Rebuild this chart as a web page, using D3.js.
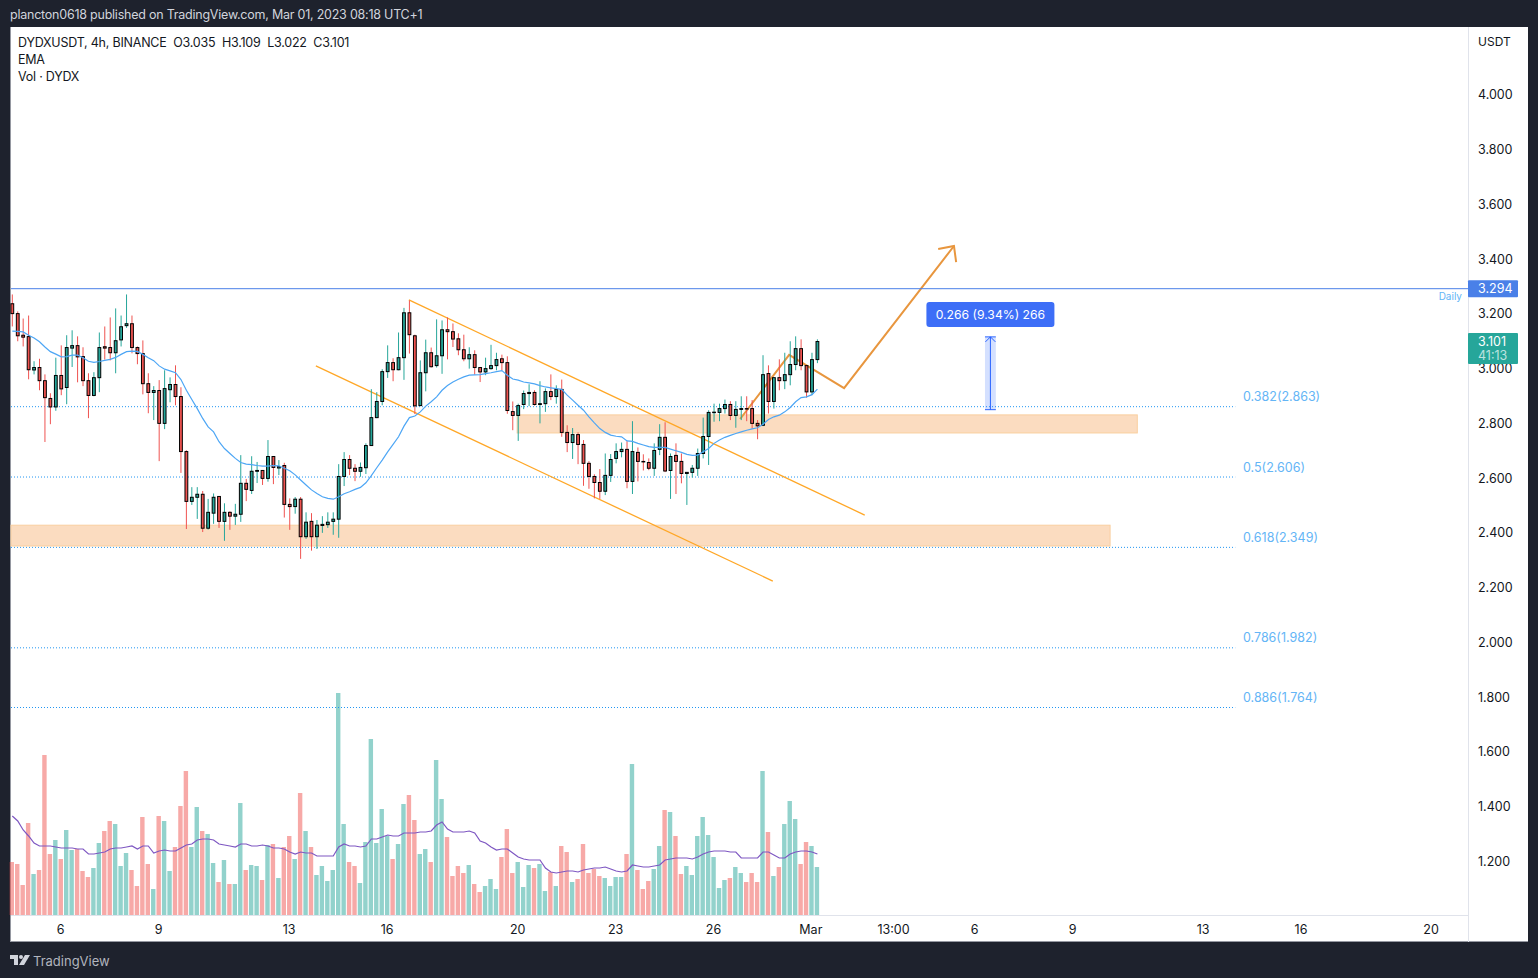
<!DOCTYPE html>
<html>
<head>
<meta charset="utf-8">
<title>DYDXUSDT</title>
<script src="https://cdnjs.cloudflare.com/ajax/libs/d3/7.8.5/d3.min.js"></script>
<style>
body { margin: 0; background: #1e222d; }
svg { display: block; }
text { font-family: Inter, "Noto Sans", sans-serif; }
</style>
</head>
<body>
<svg id="chart" width="1538" height="978"></svg>
<script>
var WIDTH = 1538, HEIGHT = 978;
var CHART_LEFT = 10, CHART_RIGHT = 1528, CHART_TOP = 27, CHART_BOTTOM = 942;
var AXIS_X = 1468, VOL_BASE = 915;
var TEAL = "#26a69a", RED = "#ef5350", FIB_BLUE = "#2196f3";

// 4h candles, one entry per bar
var opens = [
3.239,3.203,3.124,3.119,2.997,3.006,2.958,2.893,2.862,2.977,
2.933,3.077,3.086,3.046,2.958,2.904,2.969,3.082,3.079,3.060,
3.107,3.159,3.166,3.079,3.057,2.947,2.915,2.922,2.802,2.925,
2.944,2.900,2.699,2.517,2.532,2.543,2.419,2.474,2.535,2.444,
2.477,2.463,2.470,2.583,2.557,2.627,2.630,2.601,2.681,2.639,
2.648,2.506,2.498,2.525,2.388,2.444,2.388,2.429,2.432,2.444,
2.452,2.608,2.670,2.638,2.627,2.640,2.721,2.823,2.882,2.991,
3.024,2.998,3.042,3.206,3.122,2.867,2.987,3.060,3.013,3.049,
3.144,3.137,3.111,3.071,3.038,3.053,3.006,2.990,3.002,3.013,
3.038,3.024,2.845,2.831,2.871,2.911,2.915,2.871,2.874,2.918,
2.900,2.926,2.769,2.732,2.761,2.725,2.656,2.608,2.586,2.554,
2.612,2.674,2.699,2.707,2.590,2.696,2.663,2.659,2.638,2.707,
2.751,2.630,2.685,2.663,2.619,2.623,2.638,2.692,2.754,2.842,
2.842,2.856,2.871,2.831,2.853,2.856,2.856,2.802,2.795,2.984,
2.882,2.969,2.958,2.980,3.017,3.075,3.013,2.917,3.035];
var highs = [
3.273,3.211,3.185,3.196,3.029,3.038,2.981,2.912,3.042,3.087,
3.124,3.142,3.120,3.080,2.985,2.989,3.134,3.156,3.189,3.222,
3.196,3.273,3.196,3.083,3.105,2.985,2.938,2.960,2.996,2.970,
3.014,2.934,2.704,2.569,2.569,2.555,2.526,2.546,2.535,2.510,
2.481,2.508,2.686,2.599,2.682,2.661,2.631,2.741,2.681,2.668,
2.658,2.528,2.533,2.533,2.477,2.474,2.449,2.463,2.477,2.477,
2.653,2.697,2.686,2.653,2.659,2.729,2.927,2.916,3.000,3.087,
3.040,3.134,3.224,3.251,3.126,3.032,3.108,3.079,3.182,3.178,
3.189,3.167,3.131,3.126,3.080,3.069,3.006,3.042,3.089,3.060,
3.053,3.047,2.882,2.874,2.922,2.945,2.923,2.956,2.930,2.981,
2.941,2.962,2.795,2.785,2.769,2.741,2.664,2.616,2.635,2.692,
2.690,2.729,2.732,2.737,2.810,2.714,2.689,2.674,2.729,2.799,
2.806,2.692,2.729,2.692,2.623,2.650,2.710,2.823,2.850,2.874,
2.874,2.889,2.883,2.883,2.901,2.901,2.887,2.814,3.051,3.014,
2.969,3.036,3.060,3.102,3.120,3.109,3.014,3.060,3.109];
var lows = [
3.156,3.102,3.083,2.963,2.981,2.923,2.734,2.799,2.848,2.905,
2.872,3.008,2.952,2.938,2.821,2.901,2.916,3.035,3.032,2.985,
3.083,3.151,3.058,3.018,2.908,2.839,2.814,2.664,2.781,2.879,
2.868,2.621,2.416,2.504,2.453,2.405,2.414,2.435,2.420,2.373,
2.413,2.431,2.442,2.518,2.544,2.584,2.577,2.589,2.580,2.613,
2.458,2.413,2.472,2.307,2.380,2.337,2.343,2.402,2.420,2.395,
2.384,2.573,2.613,2.591,2.607,2.617,2.720,2.821,2.868,2.968,
2.956,2.996,2.961,3.057,2.836,2.865,2.919,3.006,3.006,2.983,
3.036,3.081,3.051,3.029,3.002,2.980,2.953,2.978,2.998,2.996,
2.996,2.837,2.777,2.738,2.854,2.865,2.867,2.802,2.844,2.887,
2.874,2.753,2.697,2.672,2.653,2.574,2.563,2.528,2.526,2.540,
2.588,2.656,2.678,2.565,2.544,2.590,2.630,2.631,2.610,2.686,
2.624,2.526,2.544,2.583,2.504,2.604,2.610,2.674,2.650,2.808,
2.810,2.838,2.814,2.786,2.814,2.810,2.783,2.744,2.792,2.838,
2.856,2.923,2.927,2.941,2.996,2.996,2.896,2.905,3.022];
var closes = [
3.203,3.122,3.117,2.998,3.006,2.958,2.896,2.862,2.977,2.928,
3.079,3.086,3.045,2.958,2.904,2.969,3.079,3.077,3.060,3.104,
3.155,3.166,3.079,3.057,2.947,2.915,2.922,2.802,2.929,2.944,
2.900,2.699,2.517,2.532,2.543,2.419,2.477,2.532,2.444,2.477,
2.463,2.470,2.583,2.561,2.627,2.630,2.601,2.681,2.641,2.644,
2.506,2.498,2.525,2.388,2.441,2.388,2.430,2.433,2.441,2.452,
2.608,2.670,2.638,2.627,2.641,2.721,2.823,2.882,2.991,3.024,
2.998,3.042,3.206,3.126,2.866,2.987,3.060,3.009,3.049,3.144,
3.137,3.110,3.071,3.038,3.053,3.006,2.990,3.002,3.013,3.035,
3.024,2.849,2.831,2.867,2.911,2.915,2.871,2.874,2.918,2.900,
2.926,2.769,2.732,2.761,2.725,2.656,2.608,2.586,2.554,2.612,
2.670,2.699,2.707,2.590,2.699,2.663,2.662,2.638,2.703,2.751,
2.628,2.681,2.663,2.619,2.623,2.638,2.692,2.754,2.842,2.843,
2.856,2.871,2.831,2.853,2.856,2.855,2.802,2.793,2.980,2.882,
2.969,2.958,2.980,3.017,3.075,3.013,2.917,3.035,3.101];
var ema = [
3.139,3.138,3.136,3.124,3.114,3.100,3.081,3.064,3.055,3.045,
3.046,3.051,3.051,3.042,3.029,3.025,3.028,3.032,3.036,3.043,
3.054,3.064,3.066,3.065,3.054,3.042,3.031,3.012,3.000,2.994,
2.987,2.962,2.923,2.889,2.856,2.820,2.789,2.771,2.735,2.710,
2.692,2.674,2.659,2.653,2.651,2.648,2.646,2.646,2.648,2.647,
2.638,2.629,2.614,2.595,2.577,2.559,2.546,2.534,2.528,2.525,
2.534,2.545,2.552,2.561,2.568,2.585,2.611,2.640,2.668,2.698,
2.725,2.753,2.792,2.823,2.829,2.844,2.865,2.881,2.899,2.923,
2.940,2.953,2.963,2.972,2.978,2.979,2.980,2.984,2.987,2.991,
2.995,2.978,2.964,2.960,2.953,2.950,2.946,2.940,2.935,2.932,
2.929,2.926,2.905,2.887,2.868,2.850,2.826,2.804,2.783,2.769,
2.759,2.755,2.753,2.738,2.736,2.729,2.723,2.717,2.714,2.714,
2.714,2.708,2.702,2.696,2.689,2.685,2.686,2.698,2.710,2.729,
2.741,2.751,2.758,2.765,2.771,2.777,2.782,2.786,2.799,2.816,
2.826,2.832,2.844,2.860,2.881,2.896,2.899,2.907,2.927];
// volume pane, unlabeled in the picture so the unit is arbitrary
var volumes = [
53,51,30,92,41,45,160,61,75,56,85,65,66,44,38,47,72,84,94,91,
49,62,45,29,98,51,26,99,94,44,68,109,144,68,108,84,81,52,33,55,
31,31,112,45,50,49,35,70,71,37,68,79,56,122,84,68,40,49,34,45,
222,91,53,49,32,73,176,72,106,79,56,71,111,120,95,61,66,53,155,116,
78,39,49,42,50,31,23,29,36,26,58,86,42,53,28,50,47,51,24,43,
29,69,63,33,36,71,42,46,39,37,29,38,38,61,151,45,26,34,46,69,
105,103,79,41,49,40,79,98,80,58,27,35,37,48,42,33,42,33,144,83,
39,48,91,114,96,51,73,69,48];
var volMa = [
99,94,85,79,72,69,69,69,68,67,67,67,66,66,61,61,62,63,66,67,
67,68,69,66,69,69,62,64,65,64,64,67,70,71,75,76,76,75,71,70,
69,68,71,71,69,69,70,69,67,67,66,63,61,63,62,62,59,59,59,59,
68,71,69,69,68,69,76,76,78,80,79,79,82,82,82,83,83,84,90,93,
86,83,83,83,84,82,74,72,68,65,66,66,62,58,56,55,55,55,47,43,
42,43,44,44,43,45,46,47,47,48,46,44,43,44,50,49,48,48,49,50,
55,56,57,57,57,56,58,61,63,64,64,64,63,63,57,57,57,57,63,63,
60,57,57,61,63,64,64,63,61];

var priceTicks = [4, 3.8, 3.6, 3.4, 3.2, 3, 2.8, 2.6, 2.4, 2.2, 2, 1.8, 1.6, 1.4, 1.2];
var timeTickBars = [8.8, 26.8, 50.8, 68.8, 92.8, 110.8, 128.8, 146.7, 161.9, 176.8, 194.8, 218.8, 236.8, 260.7];
var timeTickLabels = ["6", "9", "13", "16", "20", "23", "26", "Mar", "13:00", "6", "9", "13", "16", "20"];

var fibLevels = [2.863, 2.606, 2.349, 1.982, 1.764];
var fibLabels = ["0.382(2.863)", "0.5(2.606)", "0.618(2.349)", "0.786(1.982)", "0.886(1.764)"];
var dailyLevel = 3.294;
var lastClose = 3.101;

// drawings, as [bar index, price]
var zones = [
    {from: -0.4, to: 201.8, top: 2.430, bottom: 2.354},
    {from: 92.8, to: 206.8, top: 2.833, bottom: 2.767}
];
var channelUpper = [[72.9, 3.253], [156.7, 2.467]];
var channelLower = [[55.8, 3.012], [139.8, 2.226]];
var projection = [[133.8, 2.818], [142.8, 3.052], [152.9, 2.931], [173.1, 3.450]];
var projectionHead = [[170.2, 3.439], [173.1, 3.450], [173.5, 3.391]];
var measure = {from: 178.8, to: 180.8, low: 2.852, high: 3.118};

var x = d3.scaleLinear().domain([0, 1]).range([12.3, 17.74]);
var y = d3.scaleLinear().domain([dailyLevel, 1.764]).range([288.7, 707.5]);
var yVol = d3.scaleLinear().domain([0, 222]).range([VOL_BASE, 693]);

var svg = d3.select("#chart");
var bars = d3.range(opens.length);

function isUp(i) {
    return closes[i] >= opens[i];
}

function drawFrame() {
    svg.append("rect")
        .attr("width", WIDTH).attr("height", HEIGHT).attr("fill", "#1e222d");
    svg.append("rect")
        .attr("x", CHART_LEFT).attr("y", CHART_TOP)
        .attr("width", CHART_RIGHT - CHART_LEFT).attr("height", CHART_BOTTOM - CHART_TOP)
        .attr("fill", "#ffffff");
    svg.append("line")
        .attr("x1", CHART_LEFT + 0.5).attr("x2", CHART_LEFT + 0.5)
        .attr("y1", CHART_TOP).attr("y2", CHART_BOTTOM)
        .attr("stroke", "#9598a1");
    svg.append("line")
        .attr("x1", CHART_LEFT).attr("x2", CHART_RIGHT)
        .attr("y1", CHART_BOTTOM - 0.5).attr("y2", CHART_BOTTOM - 0.5)
        .attr("stroke", "#9598a1");
    svg.append("line")
        .attr("x1", AXIS_X + 0.5).attr("x2", AXIS_X + 0.5)
        .attr("y1", CHART_TOP).attr("y2", CHART_BOTTOM)
        .attr("stroke", "#e0e3eb");
    svg.append("line")
        .attr("x1", CHART_LEFT + 1).attr("x2", AXIS_X)
        .attr("y1", VOL_BASE + 0.5).attr("y2", VOL_BASE + 0.5)
        .attr("stroke", "#e0e3eb");
}

function drawHeader() {
    svg.append("text")
        .attr("x", 10).attr("y", 19)
        .attr("font-size", 12.5).attr("letter-spacing", -0.23).attr("fill", "#d1d4dc")
        .text("plancton0618 published on TradingView.com, Mar 01, 2023 08:18 UTC+1");
    var legend = svg.append("g").attr("font-size", 12.5).attr("letter-spacing", -0.22).attr("fill", "#131722");
    legend.append("text").attr("x", 18).attr("y", 47)
        .attr("xml:space", "preserve")
        .text("DYDXUSDT, 4h, BINANCE  O3.035  H3.109  L3.022  C3.101");
    legend.append("text").attr("x", 18).attr("y", 64).text("EMA");
    legend.append("text").attr("x", 18).attr("y", 81).text("Vol \u00b7 DYDX");
}

function drawFooter() {
    var logo = svg.append("g").attr("transform", "translate(10,955)").attr("fill", "#d1d4dc");
    logo.append("path").attr("d", "M0 0H8V10H4V4H0Z");
    logo.append("circle").attr("cx", 11).attr("cy", 2).attr("r", 2);
    logo.append("path").attr("d", "M15 0H20L14 10H9Z");
    svg.append("text")
        .attr("x", 33).attr("y", 966)
        .attr("font-size", 13).attr("fill", "#b2b5be")
        .text("TradingView");
}

function drawAxes() {
    var priceAxis = d3.axisRight(y)
        .tickValues(priceTicks)
        .tickFormat(d3.format(".3f"))
        .tickSize(0)
        .tickPadding(10);
    var gy = svg.append("g")
        .attr("transform", "translate(" + AXIS_X + ",-0.6)")
        .call(priceAxis);
    gy.select(".domain").remove();
    gy.selectAll("text").attr("font-size", 12.5).attr("fill", "#131722")
        .style("font-family", "Inter, sans-serif");

    svg.append("text")
        .attr("x", AXIS_X + 10).attr("y", 45.5)
        .attr("font-size", 12).attr("fill", "#131722")
        .text("USDT");

    var timeAxis = d3.axisBottom(x)
        .tickValues(timeTickBars)
        .tickFormat(function(d, i) { return timeTickLabels[i]; })
        .tickSize(0)
        .tickPadding(10);
    var gx = svg.append("g")
        .attr("transform", "translate(0," + VOL_BASE + ")")
        .call(timeAxis);
    gx.select(".domain").remove();
    gx.selectAll("text").attr("font-size", 12.5).attr("fill", "#131722")
        .style("font-family", "Inter, sans-serif");
}

function drawVolume() {
    svg.append("g").selectAll("rect")
        .data(bars)
        .join("rect")
        .attr("x", function(i) { return x(i) - 2.7; })
        .attr("width", 4.4)
        .attr("y", function(i) { return yVol(volumes[i]); })
        .attr("height", function(i) { return VOL_BASE - yVol(volumes[i]); })
        .attr("fill", function(i) { return isUp(i) ? TEAL : RED; })
        .attr("fill-opacity", 0.5);

    var line = d3.line()
        .x(function(i) { return x(i); })
        .y(function(i) { return yVol(volMa[i]); });
    svg.append("path")
        .attr("d", line(bars))
        .attr("fill", "none")
        .attr("stroke", "#7e57c2")
        .attr("stroke-width", 1.2);
}

function drawFib() {
    svg.append("g").selectAll("line")
        .data(fibLevels)
        .join("line")
        .attr("x1", CHART_LEFT + 1)
        .attr("x2", x(224.8))
        .attr("y1", function(d) { return y(d); })
        .attr("y2", function(d) { return y(d); })
        .attr("stroke", FIB_BLUE)
        .attr("stroke-dasharray", "1 2");

    svg.append("g").selectAll("text")
        .data(fibLevels)
        .join("text")
        .attr("x", 1243)
        .attr("y", function(d) { return y(d) - 5.5; })
        .attr("font-size", 12.5)
        .attr("fill", "#64b5f6")
        .text(function(d, i) { return fibLabels[i]; });
}

function drawZones() {
    svg.append("g").selectAll("rect")
        .data(zones)
        .join("rect")
        .attr("x", function(d) { return Math.max(x(d.from), CHART_LEFT + 1); })
        .attr("width", function(d) { return x(d.to) - Math.max(x(d.from), CHART_LEFT + 1); })
        .attr("y", function(d) { return y(d.top); })
        .attr("height", function(d) { return y(d.bottom) - y(d.top); })
        .attr("fill", "#fbdcc0")
        .attr("stroke", "#f9cf9f");
}

function drawDrawings() {
    var line = d3.line()
        .x(function(d) { return x(d[0]); })
        .y(function(d) { return y(d[1]); });

    [channelUpper, channelLower].forEach(function(pts) {
        svg.append("path")
            .attr("d", line(pts))
            .attr("fill", "none")
            .attr("stroke", "#ffa726")
            .attr("stroke-width", 1.3);
    });

    [projection, projectionHead].forEach(function(pts) {
        svg.append("path")
            .attr("d", line(pts))
            .attr("fill", "none")
            .attr("stroke", "#e8963e")
            .attr("stroke-width", 2);
    });
}

function drawDailyLine() {
    svg.append("line")
        .attr("x1", CHART_LEFT + 1).attr("x2", AXIS_X)
        .attr("y1", y(dailyLevel)).attr("y2", y(dailyLevel))
        .attr("stroke", "#4a80e8");
    svg.append("text")
        .attr("x", 1462).attr("y", y(dailyLevel) + 11)
        .attr("text-anchor", "end")
        .attr("font-size", 10).attr("fill", "#64b5f6")
        .text("Daily");
}

function drawCandles() {
    var g = svg.append("g");
    g.selectAll("line")
        .data(bars)
        .join("line")
        .attr("x1", function(i) { return x(i); })
        .attr("x2", function(i) { return x(i); })
        .attr("y1", function(i) { return y(highs[i]); })
        .attr("y2", function(i) { return y(lows[i]); })
        .attr("stroke", function(i) { return isUp(i) ? TEAL : RED; })
        .attr("stroke-width", 1);
    g.selectAll("rect")
        .data(bars)
        .join("rect")
        .attr("x", function(i) { return x(i) - 1.4; })
        .attr("width", 2.8)
        .attr("y", function(i) { return y(Math.max(opens[i], closes[i])); })
        .attr("height", function(i) { return Math.max(Math.abs(y(opens[i]) - y(closes[i])), 0.5); })
        .attr("fill", function(i) { return isUp(i) ? TEAL : RED; })
        .attr("stroke", "#000000")
        .attr("stroke-width", 1);
}

function drawEma() {
    var line = d3.line()
        .x(function(i) { return x(i); })
        .y(function(i) { return y(ema[i]); });
    svg.append("path")
        .attr("d", line(bars))
        .attr("fill", "none")
        .attr("stroke", "#4da6f5")
        .attr("stroke-width", 1.2);
}

function drawMeasure() {
    var left = x(measure.from), right = x(measure.to), mid = (left + right) / 2;
    var top = y(measure.high), bottom = y(measure.low);
    svg.append("rect")
        .attr("x", left).attr("y", top)
        .attr("width", right - left).attr("height", bottom - top)
        .attr("fill", "#2962ff").attr("fill-opacity", 0.2);
    var path = "M" + left + " " + top + "H" + right +
        "M" + left + " " + bottom + "H" + right +
        "M" + mid + " " + bottom + "V" + top +
        "M" + (mid - 5) + " " + (top + 5) + "L" + mid + " " + top + "L" + (mid + 5) + " " + (top + 5);
    svg.append("path")
        .attr("d", path)
        .attr("fill", "none")
        .attr("stroke", "#2962ff");
    svg.append("rect")
        .attr("x", mid - 64).attr("y", top - 35)
        .attr("width", 128).attr("height", 25).attr("rx", 3)
        .attr("fill", "#3d6ef7");
    svg.append("text")
        .attr("x", mid).attr("y", top - 18)
        .attr("text-anchor", "middle")
        .attr("font-size", 12.2).attr("fill", "#ffffff")
        .text("0.266 (9.34%) 266");
}

function drawPriceLabels() {
    svg.append("rect")
        .attr("x", AXIS_X).attr("y", y(dailyLevel) - 8.5)
        .attr("width", 50).attr("height", 17).attr("rx", 1)
        .attr("fill", "#4a80e8");
    svg.append("text")
        .attr("x", AXIS_X + 10).attr("y", y(dailyLevel) + 4.5)
        .attr("font-size", 12.5).attr("fill", "#ffffff")
        .text(d3.format(".3f")(dailyLevel));

    svg.append("rect")
        .attr("x", AXIS_X).attr("y", y(lastClose) - 8.5)
        .attr("width", 50).attr("height", 31).attr("rx", 1)
        .attr("fill", TEAL);
    svg.append("text")
        .attr("x", AXIS_X + 10).attr("y", y(lastClose) + 4.5)
        .attr("font-size", 12.5).attr("fill", "#ffffff")
        .text(d3.format(".3f")(lastClose));
    svg.append("text")
        .attr("x", AXIS_X + 10).attr("y", y(lastClose) + 18)
        .attr("font-size", 12.5).attr("fill", "#ffffff").attr("fill-opacity", 0.7)
        .text("41:13");
}

drawFrame();
drawHeader();
drawFooter();
drawVolume();
drawFib();
drawZones();
drawDrawings();
drawDailyLine();
drawCandles();
drawEma();
drawMeasure();
drawAxes();
drawPriceLabels();
</script>
</body>
</html>
